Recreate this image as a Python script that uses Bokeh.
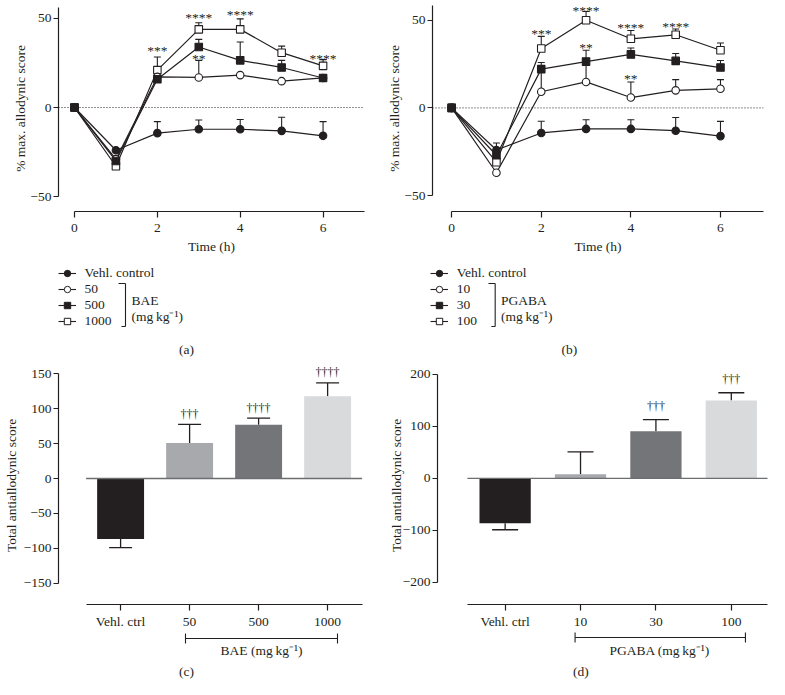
from bokeh.plotting import figure
from bokeh.layouts import row, column
from bokeh.models import (ColumnDataSource, Range1d, FixedTicker, Span, Whisker, TeeHead,
                          Legend, LegendItem, Label, Arrow)
from bokeh.core.properties import value
from bokeh.embed import file_html
from bokeh.resources import INLINE

# ---------------- data ----------------
hours = [0, 1, 2, 3, 4, 5, 6]
time_ticks = [0, 2, 4, 6]

bae_names = ["Vehl. control", "50", "500", "1000"]
bae_vehl = [0, -24, -14.4, -12.2, -12.2, -13.1, -15.9]
bae_vehl_err = [0, 0, 6.5, 5.2, 5.5, 7.6, 8.0]
bae_50 = [0, -29, 17.2, 16.9, 18.2, 14.8, 16.6]
bae_50_err = [0, 0, 0, 9.6, 0, 0, 0]
bae_500 = [0, -30, 15.9, 34.0, 26.5, 22.5, 16.6]
bae_500_err = [0, 0, 0, 4.3, 10.3, 4.0, 0]
bae_1000 = [0, -33, 21.0, 43.9, 43.9, 30.8, 23.4]
bae_1000_err = [0, 0, 7.4, 3.7, 5.9, 3.7, 3.5]
bae_sig_hours = [2, 3, 3, 4, 6]
bae_sig_y = [33.1, 51.7, 28.9, 53.5, 28.9]
bae_sig_text = ["***", "****", "**", "****", "****"]

pg_names = ["Vehl. control", "10", "30", "100"]
pg_vehl = [0, -24, -14.3, -12.0, -12.0, -13.0, -16.1]
pg_vehl_err = [0, 4, 6.7, 5.2, 5.2, 7.5, 8.4]
pg_10 = [0, -37, 9.2, 14.8, 5.9, 10.0, 10.9]
pg_10_err = [0, 0, 12.8, 11.6, 8.9, 6.1, 5.2]
pg_30 = [0, -27, 22.1, 26.4, 30.5, 26.8, 23.0]
pg_30_err = [0, 0, 3.8, 6.5, 3.7, 4.2, 4.0]
pg_100 = [0, -31, 33.9, 50.0, 39.4, 41.7, 32.9]
pg_100_err = [0, 0, 6.9, 5.0, 4.7, 3.3, 4.1]
pg_sig_hours = [2, 3, 3, 4, 4, 5]
pg_sig_y = [43.4, 56.5, 35.3, 46.8, 17.9, 47.7]
pg_sig_text = ["***", "****", "**", "****", "**", "****"]

bae_groups = ["Vehl. ctrl", "50", "500", "1000"]
bae_total = [-86.7, 50.9, 77.1, 118.0]
bae_total_err = [12.3, 26.7, 9.5, 19.1]
bae_total_sig = ["", "†††", "††††", "††††"]
bae_ticks = [-150, -100, -50, 0, 50, 100, 150]

pg_groups = ["Vehl. ctrl", "10", "30", "100"]
pg_total = [-86.3, 7.7, 90.7, 150.0]
pg_total_err = [12.7, 43.3, 22.3, 14.8]
pg_total_sig = ["", "", "†††", "†††"]
pg_ticks = [-200, -100, 0, 100, 200]

# ---------------- style / layout ----------------
INK = "#231f20"
FONT = "Liberation Serif"
FS = "13.5px"
BAR_COLORS = ["#231f20", "#a7a9ac", "#747578", "#d9dadb"]
MARKERS = [("circle", INK), ("circle", "white"), ("square", INK), ("square", "white")]

BX = 384                               # split between left and right halves
KX = (769 - BX) / (784 - BX)           # squeeze of the right half
BY = 640                               # below this, the caption lines are squeezed
KY = (679 - BY) / (688 - BY)


def lx(xr):
    return xr if xr <= BX else BX + (xr - BX) * KX


def ly(yr):
    return yr if yr <= BY else BY + (yr - BY) * KY


W_L, W_R = BX, 769 - BX
H_PLOT_T = 261
H_LEG = 358 - H_PLOT_T
H_PLOT_B = 631 - 358
H_CAP = 679 - 631
Y_LEG = H_PLOT_T
Y_BAR = 358
Y_CAP = 631


def minus(v):
    return str(v).replace("-", "\u2212")


def make_fig(cx, cy, W, H, frame, xr, yr):
    fl, fr, ft, fb = frame
    p = figure(width=W, height=H, x_range=Range1d(*xr), y_range=Range1d(*yr),
               output_backend="svg", toolbar_location=None,
               min_border_left=max(0, int(round(lx(fl) - cx))),
               min_border_right=max(0, int(round(cx + W - lx(fr)))),
               min_border_top=max(0, int(round(ly(ft) - cy))),
               min_border_bottom=max(0, int(round(cy + H - ly(fb)))))
    p.grid.visible = False
    p.outline_line_color = None
    p.border_fill_color = "white"
    for ax in (p.xaxis[0], p.yaxis[0]):
        ax.axis_line_color = INK
        ax.axis_line_width = 1.2
        ax.major_tick_line_color = INK
        ax.major_tick_line_width = 1.2
        ax.major_tick_in = 0
        ax.major_tick_out = 5
        ax.minor_tick_line_color = None
        ax.major_label_text_font = FONT
        ax.major_label_text_font_size = FS
        ax.major_label_text_color = INK
        ax.axis_label_text_font = FONT
        ax.axis_label_text_font_size = FS
        ax.axis_label_text_font_style = "normal"
        ax.axis_label_text_color = INK
    p.yaxis.major_label_standoff = 2
    ppu = (ly(fb) - ly(ft)) / (yr[1] - yr[0])   # pixels per data unit (vertical)
    return p, ppu


def blank_fig(cx, cy, W, H):
    """A figure whose frame is the whole canvas, in pixel units (y upward)."""
    p = figure(width=W, height=H, x_range=Range1d(0, W), y_range=Range1d(0, H),
               output_backend="svg", toolbar_location=None, min_border=0,
               x_axis_location=None, y_axis_location=None)
    p.grid.visible = False
    p.outline_line_color = None

    def sx(x_ref):
        return lx(x_ref) - cx

    def sy(y_ref):
        return cy + H - ly(y_ref)
    return p, sx, sy


def text_label(p, x, y, txt, align="left"):
    p.add_layout(Label(x=x, y=y, x_units="screen", y_units="screen", text=txt,
                       text_font=FONT, text_font_size=FS, text_color=INK,
                       text_align=align, text_baseline="middle"))


def seg(p, x0, y0, x1, y1, tee=None, width=1.1):
    mk = (lambda: TeeHead(size=tee, line_color=INK, line_width=width)) if tee else (lambda: None)
    p.add_layout(Arrow(x_start=x0, y_start=y0, x_end=x1, y_end=y1,
                       start_units="screen", end_units="screen",
                       start=mk(), end=mk(), line_color=INK, line_width=width))


def time_panel(cx, W, frame, xr, yr, ybound_top, series, errs, sig_h, sig_y, sig_t,
               label_standoff):
    p, ppu = make_fig(cx, 0, W, H_PLOT_T, frame, xr, yr)
    p.xaxis.ticker = FixedTicker(ticks=time_ticks)
    p.xaxis.bounds = (0, 7)
    p.xaxis.major_tick_out = 6
    p.xaxis.major_label_standoff = 6
    p.xaxis.axis_label = "Time (h)"
    p.xaxis.axis_label_standoff = 4
    yt = [-50, 0, 50]
    p.yaxis.ticker = FixedTicker(ticks=yt)
    p.yaxis.major_label_overrides = {t: minus(t) for t in yt}
    p.yaxis.bounds = (-50, ybound_top)
    p.yaxis.axis_label = "% max. allodynic score"
    p.yaxis.axis_label_standoff = label_standoff

    p.add_layout(Span(location=0, dimension="width", line_color=INK,
                      line_width=1, line_dash="1 2"))

    for vals, err in zip(series, errs):
        idx = [i for i, e in enumerate(err) if e > 0]
        src = ColumnDataSource(dict(base=[hours[i] for i in idx],
                                    lower=[vals[i] for i in idx],
                                    upper=[vals[i] + err[i] for i in idx]))
        p.add_layout(Whisker(source=src, base="base", lower="lower", upper="upper",
                             dimension="height", line_color=INK, line_width=1.1,
                             lower_head=None,
                             upper_head=TeeHead(size=7, line_color=INK, line_width=1.1),
                             level="underlay"))

    for vals in series:
        p.line(hours, vals, line_color=INK, line_width=1.2)
    for k in [3, 1, 0, 2]:
        m, fill = MARKERS[k]
        p.scatter(hours, series[k], marker=m, size=7.5, fill_color=fill,
                  line_color=INK, line_width=1.1)

    p.text(x=sig_h, y=[v - 2.0 / ppu for v in sig_y], text=sig_t,
           text_font=value(FONT), text_font_size=FS, text_color=INK,
           text_align="center", text_baseline="middle")
    return p


def legend_panel(cx, W, axis_ref, names, series, drug, letter):
    p, sx, sy = blank_fig(cx, Y_LEG, W, H_LEG)
    rends = []
    for k in range(4):
        m, fill = MARKERS[k]
        src = ColumnDataSource(dict(x=hours, y=series[k]))
        ln = p.line("x", "y", source=src, line_color=INK, line_width=1.1, visible=False)
        mk = p.scatter("x", "y", source=src, marker=m, size=5.5, fill_color=fill,
                       line_color=INK, line_width=1.0, visible=False)
        rends.append([ln, mk])
    items = [LegendItem(label=names[k], renderers=rends[k]) for k in range(4)]
    row_h = 16
    leg_h = 4 * row_h
    p.add_layout(Legend(items=items, location=(sx(axis_ref - 0.5), sy(265) - leg_h),
                        glyph_width=18, glyph_height=row_h, label_height=row_h, spacing=0,
                        padding=0, margin=0, label_standoff=9,
                        label_text_font=FONT, label_text_font_size=FS,
                        label_text_color=INK, border_line_color=None,
                        background_fill_alpha=0))
    bx = axis_ref + 67
    seg(p, sx(bx - 7), sy(283), sx(bx), sy(283))
    seg(p, sx(bx), sy(283), sx(bx), sy(326))
    seg(p, sx(bx - 4), sy(326), sx(bx), sy(326))
    text_label(p, sx(axis_ref + 73), sy(300), drug)
    text_label(p, sx(axis_ref + 73), sy(316), "(mg\u2009kg\u207b\u00b9)")
    text_label(p, sx(letter[1]), sy(349), letter[0], align="center")
    return p


def bar_panel(cx, W, frame, xr, yr, groups, vals, errs, sig, ticks, tee, sig_off,
              label_standoff):
    p, ppu = make_fig(cx, Y_BAR, W, H_PLOT_B, frame, xr, yr)
    xs = list(range(len(groups)))
    p.xaxis.ticker = FixedTicker(ticks=xs)
    p.xaxis.major_label_overrides = {i: g for i, g in zip(xs, groups)}
    p.xaxis.bounds = (xs[0] - 0.5, xs[-1] + 0.5)
    p.xaxis.major_tick_out = 6
    p.xaxis.major_label_standoff = 3
    p.yaxis.ticker = FixedTicker(ticks=ticks)
    p.yaxis.major_label_overrides = {t: minus(t) for t in ticks}
    p.yaxis.bounds = (ticks[0], ticks[-1])
    p.yaxis.axis_label = "Total antiallodynic score"
    p.yaxis.axis_label_standoff = label_standoff

    src = ColumnDataSource(dict(x=xs, top=vals, color=BAR_COLORS))
    p.vbar(x="x", top="top", bottom=0, width=0.68, fill_color="color", line_color=None,
           source=src)

    neg = [i for i, v in enumerate(vals) if v < 0]
    pos = [i for i, v in enumerate(vals) if v >= 0]
    nsrc = ColumnDataSource(dict(b=[xs[i] for i in neg], lo=[vals[i] - errs[i] for i in neg],
                                 up=[vals[i] for i in neg]))
    psrc = ColumnDataSource(dict(b=[xs[i] for i in pos], lo=[vals[i] for i in pos],
                                 up=[vals[i] + errs[i] for i in pos]))
    p.add_layout(Whisker(source=nsrc, base="b", lower="lo", upper="up", dimension="height",
                         line_color=INK, line_width=1.3, upper_head=None,
                         lower_head=TeeHead(size=tee, line_color=INK, line_width=1.3)))
    p.add_layout(Whisker(source=psrc, base="b", lower="lo", upper="up", dimension="height",
                         line_color=INK, line_width=1.3, lower_head=None,
                         upper_head=TeeHead(size=tee, line_color=INK, line_width=1.3)))

    p.segment(x0=[xs[0] - 0.5], y0=[0], x1=[xs[-1] + 0.5], y1=[0],
              line_color="#6d6e71", line_width=1.4)

    p.text(x=[xs[i] for i in pos], y=[vals[i] + errs[i] + sig_off / ppu for i in pos],
           text=[sig[i] for i in pos], text_font=value(FONT), text_font_size="12px",
           text_color=INK, text_align="center", text_baseline="middle")
    return p


def caption_panel(cx, W, bracket, drug, drug_x, letter):
    p, sx, sy = blank_fig(cx, Y_CAP, W, H_CAP)
    b0, b1, by = bracket
    seg(p, sx(b0), sy(by), sx(b1), sy(by), tee=10)
    text_label(p, sx(drug_x), sy(652), drug, align="center")
    text_label(p, sx(letter[1]), sy(678), letter[0], align="center")
    return p


bae_series = [bae_vehl, bae_50, bae_500, bae_1000]
pg_series = [pg_vehl, pg_10, pg_30, pg_100]

pa = time_panel(0, W_L, (58, 364, 5, 212), (-0.386, 7.0), (-58.4, 57.3), 56,
                bae_series, [bae_vehl_err, bae_50_err, bae_500_err, bae_1000_err],
                bae_sig_hours, bae_sig_y, bae_sig_text, -1)
pb = time_panel(W_L, W_R, (432, 778, 1, 211), (-0.427, 6.96), (-59.1, 58.4), 60,
                pg_series, [pg_vehl_err, pg_10_err, pg_30_err, pg_100_err],
                pg_sig_hours, pg_sig_y, pg_sig_text, -1)
la = legend_panel(0, W_L, 58, bae_names, bae_series, "BAE", ("(a)", 186))
lb = legend_panel(W_L, W_R, 432, pg_names, pg_series, "PGABA", ("(b)", 576))
pc = bar_panel(0, W_L, (58, 363, 366, 605), (-0.9, 3.52), (-180.7, 160.7),
               bae_groups, bae_total, bae_total_err, bae_total_sig, bae_ticks, 23, 10.5, 2)
pd_ = bar_panel(W_L, W_R, (439, 782, 366, 605), (-0.897, 3.48), (-242.9, 215.3),
                pg_groups, pg_total, pg_total_err, pg_total_sig, pg_ticks, 26, 13.5, -4)
ca = caption_panel(0, W_L, (185, 337, 638), "BAE (mg\u2009kg\u207b\u00b9)", 261, ("(c)", 186))
cd = caption_panel(W_L, W_R, (582, 759, 637), "PGABA (mg\u2009kg\u207b\u00b9)", 670,
                   ("(d)", 588))

layout = column(row(pa, pb), row(la, lb), row(pc, pd_), row(ca, cd))
open("out.html", "w").write(file_html(layout, INLINE))
